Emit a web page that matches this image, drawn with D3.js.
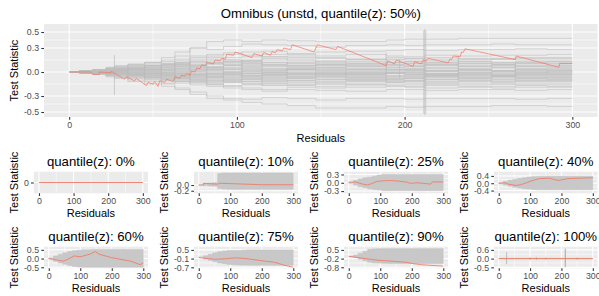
<!DOCTYPE html>
<html><head><meta charset="utf-8">
<script src="https://cdn.jsdelivr.net/npm/d3@7"></script>
<style>
body{margin:0;background:#fff}
text{font-family:"Liberation Sans",Arial,Helvetica,sans-serif}
</style></head>
<body><svg id="chart" width="599" height="296"></svg>
<script>
// ---------- DATA ----------
const xTicks = [0, 100, 200, 300];
const xMinor = [50, 150, 250];

// main panel (quantile 50%)
const mainTitle = "Omnibus (unstd, quantile(z): 50%)";
const mainYTicks = [0.5, 0.3, 0.0, -0.3, -0.5];
const mainYLabels = ["0.5", "0.3", "0.0", "-0.3", "-0.5"];
const mainYMinor = [0.4, 0.15, -0.15, -0.4];
// breakpoints of the simulated step paths
const simX = [0, 6, 14, 22, 27, 35, 45, 55, 63, 72, 82, 92, 103, 115, 130, 147, 165, 189, 200, 212, 232, 252, 266, 285];
// simulated paths, values in hundredths at the breakpoints
const simPaths = [
 [0,1,3,5,8,10,12,15,20,30,38,40,38,40,39,38,38,40,41,41,42,42,42,42],
 [0,-1,2,4,6,9,12,18,25,30,28,32,35,34,33,31,33,34,33,34,34,35,34,34],
 [0,1,-2,-4,-2,3,8,10,14,18,20,22,25,26,22,20,22,20,19,21,20,21,21,22],
 [0,0,2,6,4,7,5,9,12,16,18,15,14,19,20,18,16,15,17,18,16,17,18,18],
 [0,-1,-3,-6,-8,-12,-15,-18,-22,-28,-33,-35,-38,-40,-42,-45,-45,-43,-44,-43,-43,-42,-42,-43],
 [0,1,-1,-4,-7,-10,-12,-15,-20,-25,-30,-33,-34,-32,-33,-35,-33,-33,-34,-33,-33,-33,-34,-33],
 [0,-1,-2,-3,-5,-8,-10,-14,-12,-16,-18,-20,-22,-24,-22,-23,-24,-22,-22,-23,-22,-22,-23,-22],
 [0,1,2,3,5,4,8,10,12,10,12,13,12,10,12,13,11,12,13,12,13,12,12,13],
 [0,-1,0,2,1,-2,-4,-6,-5,-8,-10,-12,-14,-16,-17,-18,-16,-17,-18,-17,-18,-18,-17,-18],
 [0,1,3,1,-1,2,4,2,6,8,10,8,6,9,8,10,9,10,11,10,11,10,11,11],
 [0,0,-2,-3,-1,-4,-6,-8,-10,-9,-11,-13,-12,-14,-13,-15,-14,-13,-14,-15,-14,-15,-14,-14],
 [0,-1,1,3,5,8,6,4,2,5,7,9,8,7,6,8,7,6,7,8,7,8,7,7],
 [0,1,0,-1,-3,-1,1,3,5,3,1,4,3,2,4,5,4,3,4,5,4,5,4,4],
 [0,0,-1,-2,0,2,0,-2,-4,-2,0,-1,1,0,2,1,0,1,2,1,2,1,1,2],
 [0,-1,-3,-5,-3,-6,-8,-6,-9,-11,-10,-8,-10,-12,-11,-10,-9,-10,-11,-10,-10,-11,-10,-10],
 [0,1,2,4,3,1,-2,-4,-3,-6,-5,-7,-6,-8,-7,-6,-7,-8,-7,-6,-7,-6,-7,-7],
 [0,0,1,-1,-2,-4,-3,-1,1,0,-2,-3,-1,-2,-3,-4,-3,-2,-3,-4,-3,-4,-3,-3],
 [0,-1,-2,0,2,4,7,9,11,14,12,15,13,15,16,14,15,16,15,14,15,16,15,15],
 [0,1,3,5,7,9,11,13,16,20,22,24,21,19,18,17,16,18,17,16,17,16,17,17],
 [0,0,-1,1,3,1,-1,-3,-5,-7,-6,-4,-5,-4,-5,-3,-4,-5,-4,-3,-4,-5,-4,-4],
 [0,1,0,2,0,-2,-5,-8,-7,-10,-12,-10,-9,-11,-10,-9,-10,-11,-10,-9,-10,-9,-10,-10],
 [0,-1,0,-1,1,3,5,3,4,6,5,3,4,2,3,4,3,2,3,2,3,2,3,2],
 [0,0,1,3,6,5,8,11,9,12,14,11,10,12,11,10,11,12,11,10,11,10,11,11],
 [0,-1,-2,-4,-6,-4,-7,-9,-12,-14,-16,-18,-20,-22,-19,-20,-19,-18,-19,-20,-19,-20,-19,-19],
 [0,1,-1,-2,0,-1,2,0,-2,1,3,1,0,-1,0,-1,-2,-1,0,-1,0,-1,0,-1],
 [0,0,2,4,2,0,3,6,8,6,4,6,5,3,5,6,5,6,5,4,5,6,5,5],
 [0,-1,-1,-3,-5,-7,-9,-11,-14,-12,-15,-17,-16,-14,-15,-13,-12,-13,-12,-13,-12,-13,-12,-12],
 [0,1,1,0,-2,-4,-2,0,-1,-3,-5,-6,-4,-5,-6,-5,-6,-5,-6,-5,-6,-5,-6,-6],
 [0,0,0,1,4,6,9,8,10,13,16,18,19,22,23,25,26,27,28,27,28,28,29,28],
 [0,-1,1,-1,-4,-2,1,-1,-3,-5,-3,-1,-2,0,-1,-2,-1,0,-1,-2,-1,-2,-1,0],
 [0,1,2,1,3,5,3,6,4,2,5,3,1,0,-2,-1,0,-1,0,-2,-1,0,-1,-1],
 [0,-1,-1,-2,-4,-3,-5,-3,-6,-4,-7,-9,-8,-6,-8,-7,-8,-9,-8,-7,-8,-7,-8,-8],
 [0,0,1,2,4,6,8,6,9,7,10,12,14,12,10,9,10,9,8,9,8,9,8,8],
 [0,1,-1,0,-2,-4,-6,-4,-2,-4,-2,0,2,4,3,2,3,4,3,2,3,2,3,3],
 [0,-1,-2,-1,1,0,-2,-5,-7,-9,-7,-5,-7,-9,-8,-9,-10,-9,-8,-9,-8,-9,-8,-9],
 [0,0,2,3,1,3,6,9,7,4,2,0,-2,-3,-4,-3,-4,-5,-4,-5,-4,-5,-4,-4],
 [0,1,0,-2,-1,-3,-1,2,0,3,6,8,10,8,7,6,7,8,7,6,7,6,7,6],
 [0,-1,1,3,2,0,-3,-5,-8,-11,-13,-11,-9,-7,-6,-5,-6,-7,-6,-5,-6,-5,-6,-6],
 [0,0,-1,-3,-2,-5,-7,-9,-11,-13,-15,-13,-15,-17,-16,-15,-16,-15,-16,-15,-16,-15,-16,-16],
 [0,1,3,4,2,4,2,4,7,9,11,13,15,17,14,12,13,12,13,12,13,12,13,13],
 [0,0,0,-1,1,-1,1,-1,1,-1,-3,-2,-4,-3,-2,-1,-2,-1,-2,-3,-2,-3,-2,-2],
 [0,-1,-1,1,3,5,3,1,3,1,3,5,7,5,4,3,2,3,2,1,2,1,2,1],
 [0,1,2,0,-2,-4,-7,-10,-8,-6,-8,-10,-12,-10,-11,-12,-11,-12,-11,-12,-11,-12,-11,-11],
 [0,0,-2,-1,0,2,4,7,10,8,6,9,11,9,8,9,8,9,10,9,10,9,10,9],
 [0,-1,0,2,4,2,-1,-3,-1,-3,-5,-3,-2,-1,0,1,0,-1,0,1,0,1,0,1],
 [0,1,1,-1,-3,-6,-4,-7,-5,-3,-1,-3,-5,-4,-3,-2,-3,-2,-3,-4,-3,-4,-3,-3]
];
// vertical spikes: [x, low, high]
const simSpikes = [[27,-0.29,0.21],[211.4,-0.52,0.52],[212,-0.54,0.54],[212.6,-0.52,0.52],[189,-0.12,0.24],[197,-0.08,0.16],[232,-0.1,0.2],[103,-0.06,0.14],[266,-0.05,0.1]];
// observed path (x, y)
const obsX = [1,13,14,18,18,25,25,33,34,39,40,46,47,50,51,53,54,57,58,62,63,66,67,69,70,72,73,75,76,78,79,81,82,86,87,90,91,93,94,98,99,109,110,115,116,120,121,123,124,127,128,132,133,146,148,159,160,189,190,194,195,205,206,210,211,213,214,226,227,228,229,233,234,235,236,266,266.5,292,292.5,300];
const obsY = [0,0,-0.03,-0.03,0,-0.01,0.01,-0.09,-0.06,-0.11,-0.08,-0.17,-0.13,-0.15,-0.12,-0.18,-0.11,-0.13,-0.09,-0.12,-0.06,-0.08,-0.04,-0.05,-0.02,-0.04,0.01,0,0.05,0.04,0.09,0.08,0.12,0.10,0.15,0.14,0.17,0.16,0.22,0.21,0.25,0.18,0.23,0.20,0.245,0.21,0.255,0.24,0.28,0.265,0.30,0.28,0.34,0.25,0.34,0.28,0.32,0.08,0.14,0.10,0.15,0.07,0.13,0.10,0.15,0.14,0.17,0.115,0.16,0.155,0.20,0.19,0.25,0.245,0.29,0.155,0.20,0.058,0.108,0.108];

// small panels
const smallTitles = ["quantile(z): 0%","quantile(z): 10%","quantile(z): 25%","quantile(z): 40%","quantile(z): 60%","quantile(z): 75%","quantile(z): 90%","quantile(z): 100%"];
const smallYTicks = [[0],[0,-0.2],[0.3,0,-0.3],[0.4,0,-0.4],[0.5,0,-0.5],[0.5,-0.1,-0.7],[0.5,-0.175,-0.85],[0.55,0,-0.55]];
const smallYLabels = [["0"],["0.0","-0.2"],["0.3","0.0","-0.3"],["0.4","0.0","-0.4"],["0.5","0.0","-0.5"],["0.5","-0.1","-0.7"],["0.5","-0.2","-0.8"],["0.6","0.0","-0.5"]];
const smallYDomain = [[-1,1],[-0.29,0.467],[-0.38,0.40],[-0.55,0.63],[-0.56,0.68],[-0.77,0.72],[-0.93,0.75],[-0.61,0.75]];
const bandX = [0,15,30,45,60,75,90,105,120,135,150,165,180,195,210,225,240,255,270,285,300];
const bandHi = [
 [0,0,0,0,0,0,0,0,0,0,0,0,0,0,0,0,0,0,0,0,0],
 [0,0.06,0.07,0.08,0.40,0.42,0.42,0.42,0.42,0.42,0.42,0.42,0.42,0.42,0.42,0.42,0.42,0.42,0.42,0.42,0.42],
 [0.02,0.08,0.14,0.18,0.20,0.24,0.28,0.30,0.30,0.30,0.30,0.30,0.30,0.30,0.30,0.30,0.30,0.30,0.30,0.30,0.30],
 [0.02,0.10,0.16,0.22,0.26,0.30,0.34,0.36,0.37,0.38,0.38,0.38,0.38,0.38,0.38,0.38,0.38,0.38,0.38,0.38,0.38],
 [0.03,0.15,0.25,0.33,0.40,0.45,0.48,0.50,0.50,0.52,0.52,0.52,0.52,0.52,0.52,0.52,0.52,0.52,0.52,0.52,0.52],
 [0,0.10,0.20,0.30,0.38,0.42,0.45,0.45,0.46,0.48,0.50,0.50,0.50,0.50,0.50,0.50,0.50,0.50,0.50,0.50,0.50],
 [0,0.10,0.25,0.40,0.55,0.58,0.60,0.60,0.60,0.60,0.60,0.60,0.60,0.60,0.60,0.60,0.60,0.60,0.60,0.60,0.60],
 [0.02,0.02,0.02,0.02,0.02,0.02,0.02,0.02,0.02,0.02,0.02,0.02,0.02,0.02,0.02,0.02,0.02,0.02,0.02,0.02,0.02]
];
const bandLo = [
 [0,0,0,0,0,0,0,0,0,0,0,0,0,0,0,0,0,0,0,0,0],
 [0,-0.02,-0.03,-0.04,-0.12,-0.14,-0.15,-0.15,-0.15,-0.15,-0.15,-0.15,-0.15,-0.15,-0.15,-0.15,-0.15,-0.15,-0.15,-0.15,-0.15],
 [-0.02,-0.08,-0.14,-0.18,-0.22,-0.24,-0.26,-0.28,-0.28,-0.28,-0.28,-0.28,-0.28,-0.28,-0.28,-0.28,-0.28,-0.28,-0.28,-0.28,-0.28],
 [-0.02,-0.10,-0.16,-0.22,-0.26,-0.30,-0.32,-0.34,-0.36,-0.36,-0.36,-0.36,-0.36,-0.36,-0.36,-0.36,-0.36,-0.36,-0.36,-0.36,-0.36],
 [-0.03,-0.15,-0.25,-0.33,-0.40,-0.45,-0.48,-0.50,-0.50,-0.50,-0.50,-0.50,-0.50,-0.50,-0.50,-0.50,-0.50,-0.50,-0.50,-0.50,-0.50],
 [0,-0.12,-0.22,-0.32,-0.40,-0.45,-0.50,-0.52,-0.54,-0.55,-0.56,-0.56,-0.56,-0.56,-0.56,-0.56,-0.56,-0.56,-0.56,-0.56,-0.56],
 [0,-0.10,-0.22,-0.35,-0.45,-0.50,-0.52,-0.54,-0.55,-0.55,-0.55,-0.55,-0.55,-0.55,-0.55,-0.55,-0.55,-0.55,-0.55,-0.55,-0.55],
 [-0.02,-0.02,-0.02,-0.02,-0.02,-0.02,-0.02,-0.02,-0.02,-0.02,-0.02,-0.02,-0.02,-0.02,-0.02,-0.02,-0.02,-0.02,-0.02,-0.02,-0.02]
];
const smallSpikes = [[],[],[],[],[],[],[],[[25,-0.35,0.4],[100,-0.1,0.1],[120,-0.08,0.1],[150,-0.08,0.08],[212,-0.55,0.62],[213,-0.5,0.6],[250,-0.08,0.08]]];
const smallRedX = [
 [0,300],
 [0,15,15,60,65,100,150,200,300],
 [0,20,30,45,60,75,90,110,130,160,185,195,220,260,265,300],
 [0,20,30,55,70,85,100,115,130,160,190,220,260,300],
 [0,30,45,60,80,100,130,148,160,200,230,260,290,300],
 [0,30,50,80,100,120,150,200,240,270,300],
 [0,30,60,90,120,150,180,200,230,260,300],
 [0,300]
];
const smallRedY = [
 [0,0],
 [0,0,0.06,0.03,0.06,0.05,0.03,0.01,0.01],
 [0.02,0.03,0.0,-0.05,-0.08,-0.02,0.05,0.07,0.08,0.06,0.02,-0.02,0.0,-0.05,0.03,0.03],
 [0,0.02,-0.05,-0.12,-0.08,0.0,0.1,0.18,0.25,0.28,0.15,0.25,0.28,0.3],
 [0,-0.1,-0.15,-0.05,0.15,0.1,0.25,0.4,0.25,0.05,-0.05,-0.15,-0.35,-0.25],
 [-0.03,-0.1,-0.15,-0.12,-0.08,-0.05,-0.1,-0.25,-0.35,-0.55,-0.7],
 [0,-0.1,-0.2,-0.3,-0.35,-0.4,-0.45,-0.55,-0.65,-0.7,-0.76],
 [0,0]
];

// ---------- DRAWING ----------
const svg = d3.select("#chart");
const FONT = '"Liberation Sans",Arial,Helvetica,sans-serif';
const BG = "#EBEBEB", GRAY = "#BDBDBD", RED = "#F4745E";

function textW(s, size){
  const t = svg.append("text").attr("font-size", size).attr("font-family", FONT).text(s);
  const w = t.node().getComputedTextLength(); t.remove(); return w;
}

function panel(o){
  const g = svg.append("g");
  const labW = d3.max(o.yLabels, s => textW(s, 8.8));
  const left = o.colX + 23.9 + labW + 4.95;
  const x = d3.scaleLinear().domain([-15, 315]).range([left, o.right]);
  const y = d3.scaleLinear().domain(o.yDomain).range([o.bottom, o.top]);
  g.append("rect").attr("x", left).attr("y", o.top).attr("width", o.right-left).attr("height", o.bottom-o.top).attr("fill", BG);
  g.selectAll(".hm").data(o.yMinor).join("line").attr("x1", left).attr("x2", o.right)
    .attr("y1", d=>y(d)).attr("y2", d=>y(d)).attr("stroke","#fff").attr("stroke-width",0.53);
  g.selectAll(".vm").data(xMinor).join("line").attr("y1", o.top).attr("y2", o.bottom)
    .attr("x1", d=>x(d)).attr("x2", d=>x(d)).attr("stroke","#fff").attr("stroke-width",0.53);
  g.selectAll(".hM").data(o.yTicks).join("line").attr("x1", left).attr("x2", o.right)
    .attr("y1", d=>y(d)).attr("y2", d=>y(d)).attr("stroke","#fff").attr("stroke-width",1.07);
  g.selectAll(".vM").data(xTicks).join("line").attr("y1", o.top).attr("y2", o.bottom)
    .attr("x1", d=>x(d)).attr("x2", d=>x(d)).attr("stroke","#fff").attr("stroke-width",1.07);
  const clip = "clip" + Math.round(left) + "_" + Math.round(o.top);
  svg.append("clipPath").attr("id", clip).append("rect").attr("x", left).attr("y", o.top).attr("width", o.right-left).attr("height", o.bottom-o.top);
  const data = g.append("g").attr("clip-path", `url(#${clip})`);
  o.draw(data, x, y);
  const yAxis = d3.axisLeft(y).tickValues(o.yTicks).tickFormat((d,i)=>o.yLabels[i]).tickSize(2.75).tickPadding(2.2);
  const ya = g.append("g").attr("transform", `translate(${left},0)`).call(yAxis);
  const xAxis = d3.axisBottom(x).tickValues(xTicks).tickFormat(d3.format("d")).tickSize(2.75).tickPadding(2.2);
  const xa = g.append("g").attr("transform", `translate(0,${o.bottom})`).call(xAxis);
  [ya, xa].forEach(a => {
    a.select(".domain").remove();
    a.selectAll("line").attr("stroke", "#333").attr("stroke-width", 1.07);
    a.selectAll("text").attr("fill", "#4D4D4D").attr("font-size", 8.8).attr("font-family", FONT);
  });
  g.append("text").attr("x", (left+o.right)/2).attr("y", o.titleY).attr("text-anchor","middle")
    .attr("font-size", 13.2).attr("fill","#000").text(o.title);
  g.append("text").attr("x", (left+o.right)/2).attr("y", o.xlabY).attr("text-anchor","middle")
    .attr("font-size", 11).attr("fill","#000").text("Residuals");
  g.append("text").attr("transform", `translate(${o.colX+17.5},${(o.top+o.bottom)/2}) rotate(-90)`)
    .attr("text-anchor","middle").attr("font-size", 11).attr("fill","#000").text("Test Statistic");
}

// main panel
panel({colX:0, right:597.5, top:24, bottom:117, yDomain:[-0.5625,0.6], yTicks:mainYTicks, yLabels:mainYLabels, yMinor:mainYMinor,
  title:mainTitle, titleY:17.5, xlabY:142,
  draw:(g,x,y)=>{
    const line = d3.line().x(d=>x(d[0])).y(d=>y(d[1])).curve(d3.curveStepAfter);
    simPaths.forEach(p=>{
      const pts = simX.map((sx,i)=>[sx, p[i]/100]); pts.push([300, p[p.length-1]/100]);
      g.append("path").attr("d", line(pts)).attr("fill","none").attr("stroke",GRAY).attr("stroke-width",0.6);
    });
    g.selectAll(".sp").data(simSpikes).join("line").attr("x1",d=>x(d[0])).attr("x2",d=>x(d[0]))
      .attr("y1",d=>y(d[1])).attr("y2",d=>y(d[2])).attr("stroke",GRAY).attr("stroke-width",0.7);
    const rl = d3.line().x(d=>x(d[0])).y(d=>y(d[1]));
    g.append("path").attr("d", rl(obsX.map((v,i)=>[v, obsY[i]]))).attr("fill","none").attr("stroke",RED).attr("stroke-width",0.7);
  }});

// small panels
const colXs = [0,150,300,450], rights = [148,298,448,597.5];
const rowTops = [148, 223];
smallTitles.forEach((t, k)=>{
  const r = Math.floor(k/4), c = k%4, top = rowTops[r];
  const yT = smallYTicks[k];
  const minor = [];
  for (let i=0;i<yT.length-1;i++) minor.push((yT[i]+yT[i+1])/2);
  panel({colX:colXs[c], right:rights[c], top: top+23.7, bottom: top+45.3, yDomain:smallYDomain[k], yTicks:yT, yLabels:smallYLabels[k], yMinor:minor,
    title:t, titleY: top+18.4, xlabY: top+69.3,
    draw:(g,x,y)=>{
      const area = d3.area().x(d=>x(d[0])).y0(d=>y(d[1])).y1(d=>y(d[2])).curve(d3.curveStepAfter);
      const pts = bandX.map((bx,i)=>[bx, bandLo[k][i], bandHi[k][i]]);
      g.append("path").attr("d", area(pts)).attr("fill","#C8C8C8").attr("stroke","#C0C0C0").attr("stroke-width",0.5);
      g.selectAll(".sp").data(smallSpikes[k]).join("line").attr("x1",d=>x(d[0])).attr("x2",d=>x(d[0]))
        .attr("y1",d=>y(d[1])).attr("y2",d=>y(d[2])).attr("stroke","#B0B0B0").attr("stroke-width",0.8);
      const rl = d3.line().x(d=>x(d[0])).y(d=>y(d[1]));
      g.append("path").attr("d", rl(smallRedX[k].map((v,i)=>[v, smallRedY[k][i]]))).attr("fill","none").attr("stroke",RED).attr("stroke-width",0.8);
    }});
});
</script>
</body></html>
